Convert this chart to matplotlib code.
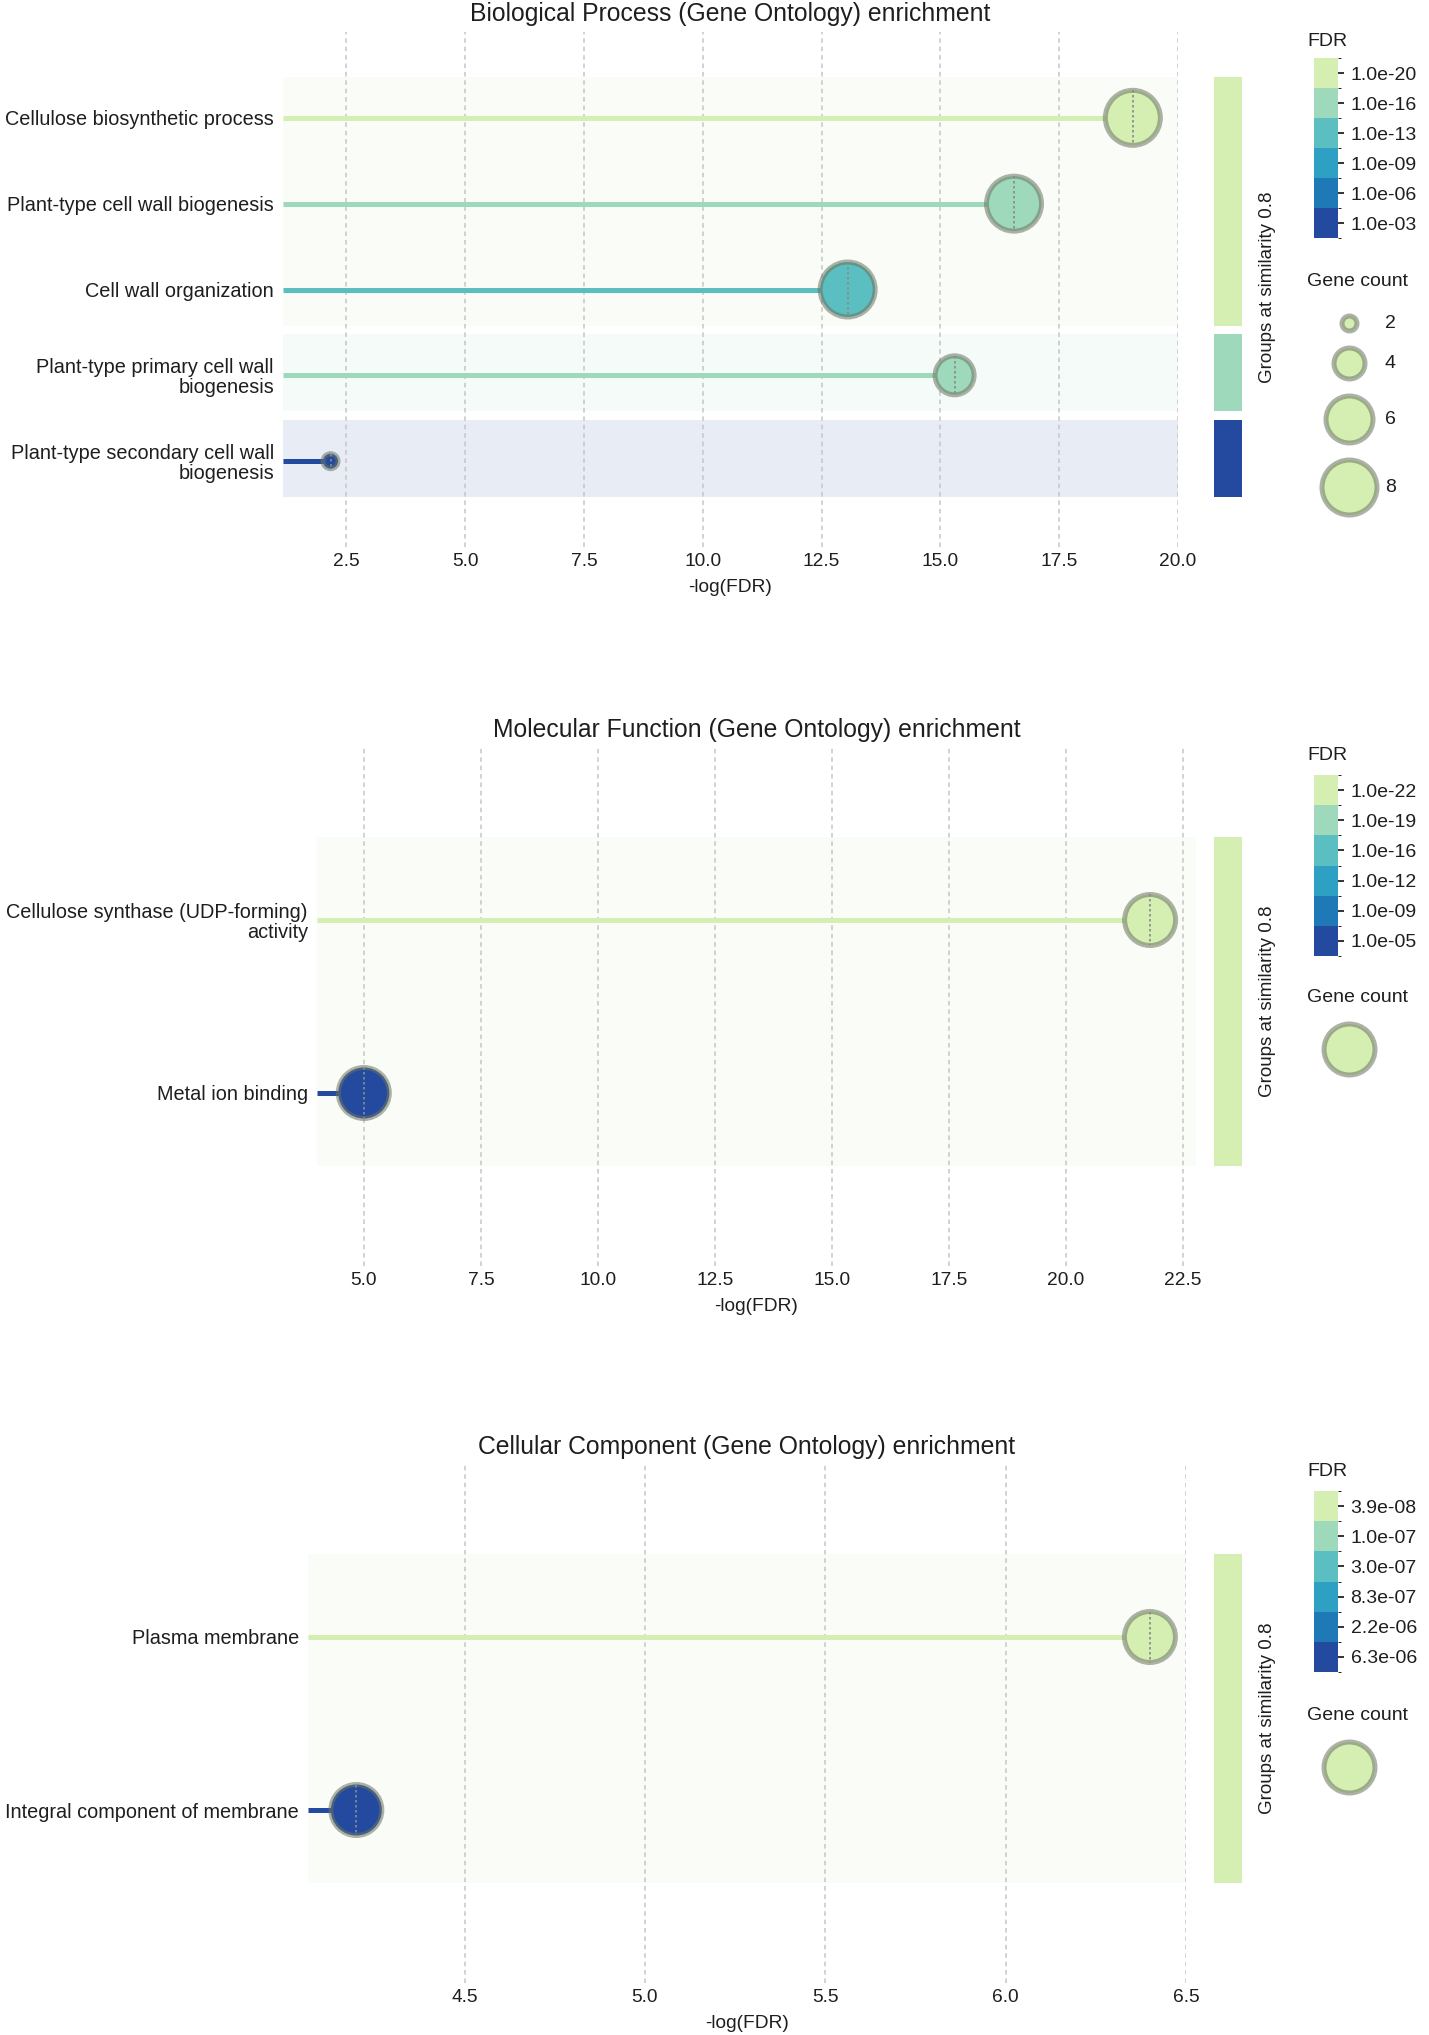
import numpy as np
import matplotlib
matplotlib.use("Agg")
import matplotlib.pyplot as plt
from matplotlib.colors import ListedColormap, BoundaryNorm
from matplotlib.colorbar import ColorbarBase
from matplotlib.patches import Rectangle

plt.rcParams['font.family'] = ['Liberation Sans', 'DejaVu Sans']

W, H = 1429, 2035

# colores FDR, de claro (arriba) a oscuro (abajo)
palette = ['#d5efb3', '#9fd9bb', '#5bbec0', '#2ea0c4', '#1f79b6', '#234a9f']

# --- Biological Process ---
bp_terms = ['Cellulose biosynthetic process',
            'Plant-type cell wall biogenesis',
            'Cell wall organization',
            'Plant-type primary cell wall\nbiogenesis',
            'Plant-type secondary cell wall\nbiogenesis']
bp_logfdr = [19.05, 16.55, 13.05, 15.30, 2.17]
bp_count = [8, 8, 8, 5, 2]
bp_level = [0, 1, 2, 1, 5]
bp_group = [0, 0, 0, 1, 2]
bp_group_level = [0, 1, 5]
bp_xticks = [2.5, 5.0, 7.5, 10.0, 12.5, 15.0, 17.5, 20.0]
bp_fdr_labels = ['1.0e-20', '1.0e-16', '1.0e-13', '1.0e-09', '1.0e-06', '1.0e-03']
bp_legend_counts = [2, 4, 6, 8]
bp_legend_labels = ['2', '4', '6', '8']

# --- Molecular Function ---
mf_terms = ['Cellulose synthase (UDP-forming)\nactivity', 'Metal ion binding']
mf_logfdr = [21.8, 5.0]
mf_count = [8, 8]
mf_level = [0, 5]
mf_group = [0, 0]
mf_group_level = [0]
mf_xticks = [5.0, 7.5, 10.0, 12.5, 15.0, 17.5, 20.0, 22.5]
mf_fdr_labels = ['1.0e-22', '1.0e-19', '1.0e-16', '1.0e-12', '1.0e-09', '1.0e-05']
mf_legend_counts = [8]
mf_legend_labels = ['']

# --- Cellular Component ---
cc_terms = ['Plasma membrane', 'Integral component of membrane']
cc_logfdr = [6.40, 4.20]
cc_count = [8, 8]
cc_level = [0, 5]
cc_group = [0, 0]
cc_group_level = [0]
cc_xticks = [4.5, 5.0, 5.5, 6.0, 6.5]
cc_fdr_labels = ['3.9e-08', '1.0e-07', '3.0e-07', '8.3e-07', '2.2e-06', '6.3e-06']
cc_legend_counts = [8]
cc_legend_labels = ['']

fig = plt.figure(figsize=(W / 100, H / 100), dpi=100)
EDGE = (0.42, 0.45, 0.38, 0.55)
EDGE_PX = 5.0
TXT = '#1e1e1e'


def size_pts(r_px):
    # area del marcador (sin contar el borde) en puntos^2
    return (2 * (np.asarray(r_px) - EDGE_PX / 2) * 0.72) ** 2


def panel(title, terms, logfdr, counts, levels, groups, group_level, xlim, xticks,
          fdr_labels, legend_counts, legend_radii, legend_labels, box):
    left, right, top, bottom = box['left'], box['right'], box['top'], box['bottom']
    n = len(terms)
    rows = np.arange(n)
    ppu = (bottom - top) / (n + 1)
    ax = fig.add_axes([left / W, 1 - bottom / H, (right - left) / W, (bottom - top) / H])
    ax.set_xlim(xlim)
    ax.set_ylim(n, -1)
    for sp in ax.spines.values():
        sp.set_visible(False)
    ax.set_xticks(xticks)
    ax.set_xticklabels([f'{t:.1f}' for t in xticks])
    ax.set_yticks(rows)
    ax.set_yticklabels(terms, linespacing=1.05)
    ax.tick_params(length=0, labelcolor=TXT)
    ax.tick_params(axis='x', pad=4.5, labelsize=13.8)
    ax.tick_params(axis='y', pad=6.5, labelsize=14.3)
    ax.set_xlabel('-log(FDR)', fontsize=13.8, color=TXT, labelpad=6)
    for t in xticks:
        ax.axvline(t, color='#c6c6c6', lw=1.1, ls=(0, (3, 2.5)), zorder=1)

    groups = np.array(groups)
    spans = []
    for g in range(len(group_level)):
        idx = rows[groups == g]
        y0, y1 = idx.min() - 0.48, idx.max() + 0.42
        ax.axhspan(y0, y1, color=palette[group_level[g]], alpha=0.1, lw=0, zorder=0)
        spans.append((top + (y0 + 1) * ppu, top + (y1 + 1) * ppu, group_level[g]))

    cols = [palette[l] for l in levels]
    ax.hlines(rows, xlim[0], logfdr, colors=cols, lw=3.6, zorder=2)
    radii = np.interp(counts, legend_counts, legend_radii)
    ax.scatter(logfdr, rows, s=size_pts(radii), c=cols, edgecolors=[EDGE],
               linewidths=EDGE_PX * 0.72, zorder=3, clip_on=False)
    for x, y, r in zip(logfdr, rows, radii):
        h = (r - EDGE_PX / 2) / ppu
        ax.plot([x, x], [y - h, y + h], color='#8a8a8a', lw=1.2,
                ls=(0, (1.5, 1.5)), zorder=4)

    # barra de colores FDR
    cb_top, cb_bot = box['cb']
    cax = fig.add_axes([1314 / W, 1 - cb_bot / H, 24 / W, (cb_bot - cb_top) / H])
    bounds = np.arange(7)
    cmap = ListedColormap(palette[::-1])
    norm = BoundaryNorm(bounds, cmap.N)
    cb = ColorbarBase(cax, cmap=cmap, norm=norm, ticks=bounds[:-1] + 0.5,
                      orientation='vertical')
    cb.set_ticklabels(fdr_labels[::-1])
    cb.outline.set_visible(False)
    cax.tick_params(length=4, width=1.4, color='#333333', labelsize=14,
                    labelcolor=TXT, pad=5)

    return dict(spans=spans, left=left, right=right, box=box, title=title,
                legend_radii=legend_radii, legend_labels=legend_labels)


panels = []
panels.append(panel('Biological Process (Gene Ontology) enrichment', bp_terms, bp_logfdr,
                    bp_count, bp_level, bp_group, bp_group_level, (1.17, 20.0), bp_xticks,
                    bp_fdr_labels, bp_legend_counts, [10, 18, 26, 30], bp_legend_labels,
                    dict(left=283, right=1178, top=32, bottom=547, title=14, fdr=42,
                         cb=(58, 238), gene=282, leg=323)))
panels.append(panel('Molecular Function (Gene Ontology) enrichment', mf_terms, mf_logfdr,
                    mf_count, mf_level, mf_group, mf_group_level, (4.0, 22.78), mf_xticks,
                    mf_fdr_labels, mf_legend_counts, [28], mf_legend_labels,
                    dict(left=317, right=1196, top=747, bottom=1266, title=730, fdr=756,
                         cb=(775, 956), gene=998, leg=1049)))
panels.append(panel('Cellular Component (Gene Ontology) enrichment', cc_terms, cc_logfdr,
                    cc_count, cc_level, cc_group, cc_group_level, (4.066, 6.5), cc_xticks,
                    cc_fdr_labels, cc_legend_counts, [28], cc_legend_labels,
                    dict(left=308, right=1186, top=1464, bottom=1983, title=1447, fdr=1471,
                         cb=(1491, 1672), gene=1715, leg=1767)))

# capa en pixeles para titulos, leyendas y barras de grupo
ov = fig.add_axes([0, 0, 1, 1], zorder=10)
ov.set_xlim(0, W)
ov.set_ylim(H, 0)
ov.axis('off')

for p in panels:
    b = p['box']
    ov.text((p['left'] + p['right']) / 2, b['title'], p['title'], ha='center',
            va='center', fontsize=17.8, color=TXT)
    for y0, y1, lev in p['spans']:
        ov.add_patch(Rectangle((1214, y0), 28, y1 - y0, color=palette[lev], lw=0))
    ymid = (p['spans'][0][0] + p['spans'][-1][1]) / 2
    ov.text(1268, ymid, 'Groups at similarity 0.8', rotation=90, ha='center',
            va='center', fontsize=13.5, color=TXT)
    ov.text(1307, b['fdr'], 'FDR', ha='left', va='center', fontsize=14, color=TXT)
    ov.text(1307, b['gene'], 'Gene count', ha='left', va='center', fontsize=14,
            color=TXT)
    y = b['leg']
    radii = p['legend_radii']
    for i, (r, lab) in enumerate(zip(radii, p['legend_labels'])):
        if i > 0:
            y += radii[i - 1] + r + 12
        ov.scatter([1349], [y], s=size_pts(r), c=palette[0], edgecolors=[EDGE],
                   linewidths=EDGE_PX * 0.72, clip_on=False)
        if lab:
            ov.text(1385, y, lab, ha='left', va='center', fontsize=14, color=TXT)

fig.savefig('out.png', dpi=100)
